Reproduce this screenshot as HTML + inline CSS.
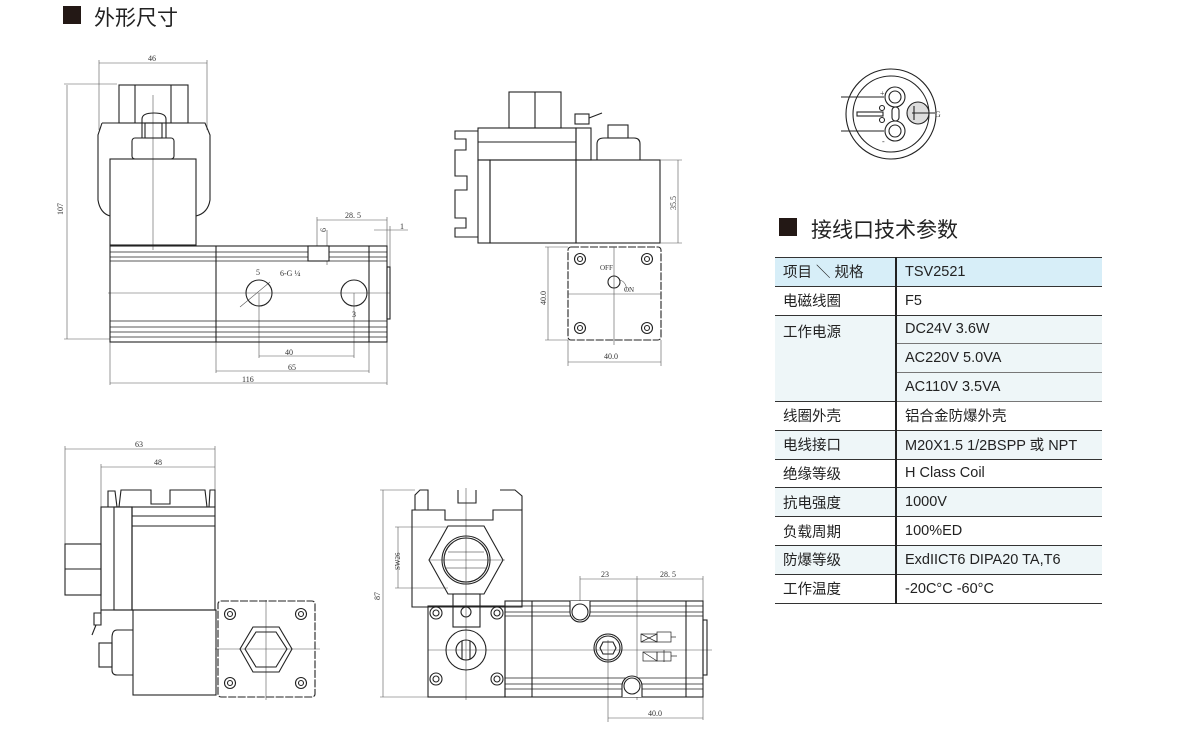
<!DOCTYPE html>
<html><head><meta charset="utf-8"><style>
body{margin:0;background:#fff;width:1200px;height:749px;overflow:hidden;font-family:"Liberation Sans","Noto Sans CJK SC",sans-serif}
svg{position:absolute;left:0;top:0}
.t{position:absolute;font-size:21px;color:#222;font-family:"Liberation Sans","Noto Sans CJK SC",sans-serif}
.sq{position:absolute;background:#231815}
table{position:absolute;left:775px;top:257px;width:327px;border-collapse:collapse;font-size:14.5px;color:#222}
td{height:27.8px;padding:0 0 0 8px;border-top:1.5px solid #333;border-bottom:1.5px solid #333;vertical-align:middle}
td.l{width:112px;border-right:2px solid #222}
tr.b td{background:#eef6f8}
tr.h td{background:#d7eef8}
td.sub{border-top:1px solid #777;border-bottom:1px solid #777}
</style></head><body>
<div class="sq" style="left:63px;top:6px;width:18px;height:18px"></div>
<div class="t" style="left:94px;top:2px">外形尺寸</div>
<div class="sq" style="left:779px;top:218px;width:18px;height:18px"></div>
<div class="t" style="left:811px;top:214px">接线口技术参数</div>
<table>
<tr class="h"><td class="l">项目 ＼ 规格</td><td>TSV2521</td></tr>
<tr><td class="l">电磁线圈</td><td>F5</td></tr>
<tr class="b"><td class="l" rowspan="3" style="vertical-align:top;padding-top:5px">工作电源</td><td class="sub">DC24V 3.6W</td></tr>
<tr class="b"><td class="sub">AC220V 5.0VA</td></tr>
<tr class="b"><td class="sub">AC110V 3.5VA</td></tr>
<tr><td class="l">线圈外壳</td><td>铝合金防爆外壳</td></tr>
<tr class="b"><td class="l">电线接口</td><td>M20X1.5 1/2BSPP 或 NPT</td></tr>
<tr><td class="l">绝缘等级</td><td>H Class Coil</td></tr>
<tr class="b"><td class="l">抗电强度</td><td>1000V</td></tr>
<tr><td class="l">负载周期</td><td>100%ED</td></tr>
<tr class="b"><td class="l">防爆等级</td><td>ExdIICT6 DIPA20 TA,T6</td></tr>
<tr><td class="l">工作温度</td><td>-20C°C -60°C</td></tr>
</table>
<svg width="1200" height="749" viewBox="0 0 1200 749" fill="none" stroke="#222" stroke-width="1.1" font-family="Liberation Serif,serif" font-size="8">
<g stroke="#555" stroke-width="0.6">
<line x1="99" y1="63" x2="207" y2="63"/><line x1="99" y1="60" x2="99" y2="130"/><line x1="207" y1="60" x2="207" y2="130"/>
<line x1="67" y1="85" x2="67" y2="339"/><line x1="64" y1="84" x2="117" y2="84"/><line x1="64" y1="339" x2="110" y2="339"/>
<line x1="259" y1="356" x2="354" y2="356"/><line x1="259" y1="293" x2="259" y2="358"/><line x1="354" y1="293" x2="354" y2="358"/>
<line x1="216" y1="371" x2="369" y2="371"/><line x1="216" y1="342" x2="216" y2="373"/><line x1="369" y1="342" x2="369" y2="373"/>
<line x1="110" y1="383" x2="387" y2="383"/><line x1="110" y1="342" x2="110" y2="385"/><line x1="387" y1="342" x2="387" y2="385"/>
<line x1="317" y1="220" x2="387" y2="220"/><line x1="317" y1="217" x2="317" y2="246"/><line x1="387" y1="217" x2="387" y2="267"/>
<line x1="374" y1="230" x2="408" y2="230"/><line x1="390" y1="226" x2="390" y2="267"/>
<line x1="327" y1="230" x2="327" y2="265"/>
<line x1="153" y1="95" x2="153" y2="250"/><line x1="108" y1="293" x2="390" y2="293"/>
<line x1="240" y1="307" x2="270" y2="282"/>
</g>
<g fill="#333" stroke="none">
<text x="148" y="61">46</text><text x="345" y="218">28. 5</text><text x="400" y="229">1</text>
<text x="285" y="355">40</text><text x="288" y="370">65</text><text x="242" y="382">116</text>
<text x="280" y="276">6-G ¼</text><text x="256" y="275">5</text><text x="352" y="317">3</text>
<text x="0" y="0" transform="translate(63,215) rotate(-90)">107</text>
<text x="0" y="0" transform="translate(326,232) rotate(-90)">6</text>
</g>
<rect x="119" y="85" width="69" height="38"/><line x1="135" y1="85" x2="135" y2="123"/><line x1="171" y1="85" x2="171" y2="123"/>
<path d="M102 123 H205 L210 135 V200 Q208 213 196 216 M102 123 L98 135 V200 Q100 213 110 216"/>
<path d="M142 138 V119 Q142 113 154 113 Q166 113 166 119 V138"/><rect x="145" y="123" width="17" height="15"/>
<rect x="132" y="138" width="42" height="21" rx="3"/>
<rect x="110" y="159" width="86" height="86"/>
<rect x="110" y="246" width="277" height="96"/>
<g stroke-width="0.7"><line x1="110" y1="252" x2="387" y2="252"/><line x1="110" y1="257" x2="387" y2="257"/><line x1="110" y1="261" x2="387" y2="261"/>
<line x1="110" y1="321" x2="387" y2="321"/><line x1="110" y1="327" x2="387" y2="327"/><line x1="110" y1="332" x2="387" y2="332"/><line x1="110" y1="337" x2="387" y2="337"/></g>
<line x1="216" y1="246" x2="216" y2="342"/><line x1="369" y1="246" x2="369" y2="342"/>
<rect x="308" y="246" width="21" height="15" fill="#fff"/>
<rect x="387" y="267" width="3" height="52"/>
<circle cx="259" cy="293" r="13"/><circle cx="354" cy="293" r="13"/>
<rect x="509" y="92" width="52" height="36"/><line x1="535" y1="92" x2="535" y2="128"/>
<rect x="478" y="128" width="98" height="32"/><line x1="478" y1="142" x2="576" y2="142"/>
<path d="M478 131 H455 V139 H466 V150 H455 V176 H467 V190 H455 V218 H466 V228 H455 V237 H478"/>
<rect x="478" y="160" width="12" height="83"/>
<rect x="490" y="160" width="86" height="83"/><rect x="576" y="160" width="84" height="83"/>
<rect x="576" y="128" width="15" height="32"/><rect x="575" y="114" width="14" height="10"/><line x1="589" y1="118" x2="602" y2="113"/>
<path d="M597 160 V144 Q597 138 604 138 H634 Q640 138 640 144 V160"/><rect x="608" y="125" width="20" height="13"/>
<rect x="568" y="247" width="93" height="93" rx="3" stroke-dasharray="8 1.5"/>
<g stroke="#555" stroke-width="0.6"><line x1="614" y1="247" x2="614" y2="345"/><line x1="568" y1="294" x2="661" y2="294"/>
<line x1="678" y1="160" x2="678" y2="243"/><line x1="660" y1="160" x2="682" y2="160"/><line x1="660" y1="243" x2="682" y2="243"/>
<line x1="548" y1="247" x2="548" y2="340"/><line x1="545" y1="247" x2="568" y2="247"/><line x1="545" y1="340" x2="568" y2="340"/>
<line x1="568" y1="362" x2="661" y2="362"/><line x1="568" y1="340" x2="568" y2="366"/><line x1="661" y1="340" x2="661" y2="366"/>
<path d="M620 280 A9 9 0 0 1 626 291"/></g>
<g><circle cx="580" cy="259" r="5.5"/><circle cx="580" cy="259" r="2.5"/><circle cx="647" cy="259" r="5.5"/><circle cx="647" cy="259" r="2.5"/>
<circle cx="580" cy="328" r="5.5"/><circle cx="580" cy="328" r="2.5"/><circle cx="647" cy="328" r="5.5"/><circle cx="647" cy="328" r="2.5"/>
<circle cx="614" cy="282" r="6"/></g>
<g fill="#333" stroke="none" font-size="7"><text x="600" y="270">OFF</text><text x="624" y="292">ON</text>
<text x="604" y="359" font-size="8">40.0</text>
<text transform="translate(676,210) rotate(-90)" font-size="8">35.5</text>
<text transform="translate(546,305) rotate(-90)" font-size="8">40.0</text></g>
<g stroke="#555" stroke-width="0.6"><line x1="65" y1="449" x2="215" y2="449"/><line x1="65" y1="446" x2="65" y2="545"/><line x1="215" y1="446" x2="215" y2="490"/>
<line x1="101" y1="467" x2="215" y2="467"/><line x1="101" y1="464" x2="101" y2="508"/>
<line x1="266" y1="600" x2="266" y2="700"/><line x1="215" y1="649" x2="320" y2="649"/></g>
<g fill="#333" stroke="none"><text x="135" y="447">63</text><text x="154" y="465">48</text></g>
<path d="M108 507 V491 H115 L117 507 M119 507 L121 490 H151 V504 H170 V490 H205 L207 507 M209 507 L210 490 H215 V507"/>
<rect x="101" y="507" width="31" height="103"/><rect x="114" y="507" width="18" height="103"/>
<rect x="132" y="507" width="83" height="103"/><line x1="132" y1="516" x2="215" y2="516"/><line x1="132" y1="526" x2="215" y2="526"/>
<rect x="65" y="544" width="36" height="51"/><line x1="65" y1="569" x2="101" y2="569"/>
<rect x="133" y="610" width="83" height="85"/>
<path d="M133 630 H117 Q112 630 112 638 V670 Q112 675 117 675 H133"/><rect x="99" y="643" width="13" height="24"/>
<path d="M101 610 V620 M94 613 H101 V625 H94 Z M92 635 L96 625"/>
<rect x="218" y="601" width="97" height="96" rx="3" stroke-dasharray="8 1.5"/>
<g><circle cx="230" cy="614" r="5.5"/><circle cx="230" cy="614" r="2.5"/><circle cx="301" cy="614" r="5.5"/><circle cx="301" cy="614" r="2.5"/>
<circle cx="230" cy="683" r="5.5"/><circle cx="230" cy="683" r="2.5"/><circle cx="301" cy="683" r="5.5"/><circle cx="301" cy="683" r="2.5"/></g>
<polygon points="253,627 279,627 292,649 279,672 253,672 240,649"/><polygon points="256,632 276,632 287,649 276,667 256,667 245,649"/>
<g stroke="#555" stroke-width="0.6"><line x1="383" y1="490" x2="383" y2="697"/><line x1="380" y1="490" x2="415" y2="490"/><line x1="380" y1="697" x2="428" y2="697"/>
<line x1="398" y1="527" x2="398" y2="588"/><line x1="395" y1="527" x2="448" y2="527"/><line x1="395" y1="588" x2="448" y2="588"/>
<line x1="466" y1="488" x2="466" y2="700"/><line x1="430" y1="560" x2="505" y2="560"/><line x1="428" y1="650" x2="712" y2="650"/>
<line x1="580" y1="579" x2="703" y2="579"/><line x1="580" y1="576" x2="580" y2="612"/><line x1="637" y1="576" x2="637" y2="700"/><line x1="703" y1="576" x2="703" y2="720"/>
<line x1="608" y1="718" x2="703" y2="718"/><line x1="608" y1="640" x2="608" y2="722"/></g>
<g fill="#333" stroke="none"><text x="601" y="577">23</text><text x="660" y="577">28. 5</text><text x="648" y="716">40.0</text>
<text transform="translate(380,600) rotate(-90)">87</text><text transform="translate(400,570) rotate(-90)" font-size="7">SW26</text></g>
<path d="M415 510 V495 L420 490 H428 V510 M458 490 V503 H476 V490 M500 490 H515 L522 496 V510"/>
<path d="M412 510 V607 H522 V510 H493 V520 H445 V510 Z"/>
<polygon points="448,526 484,526 503,560 484,594 448,594 429,560"/>
<circle cx="466" cy="560" r="24"/><circle cx="466" cy="560" r="22"/>
<g stroke-width="0.6"><line x1="448" y1="552" x2="484" y2="552"/><line x1="446" y1="568" x2="486" y2="568"/></g>
<rect x="453" y="594" width="27" height="33"/><circle cx="466" cy="612" r="5"/>
<rect x="428" y="606" width="77" height="91"/>
<g><circle cx="436" cy="613" r="6"/><circle cx="436" cy="613" r="3"/><circle cx="497" cy="613" r="6"/><circle cx="497" cy="613" r="3"/>
<circle cx="436" cy="679" r="6"/><circle cx="436" cy="679" r="3"/><circle cx="497" cy="679" r="6"/><circle cx="497" cy="679" r="3"/></g>
<circle cx="466" cy="650" r="20"/><circle cx="466" cy="650" r="10"/><line x1="462" y1="641" x2="462" y2="659"/><line x1="470" y1="641" x2="470" y2="659"/>
<rect x="505" y="601" width="198" height="96"/>
<line x1="532" y1="601" x2="532" y2="697"/><line x1="686" y1="601" x2="686" y2="697"/>
<g stroke-width="0.7"><line x1="505" y1="606" x2="703" y2="606"/><line x1="505" y1="612" x2="703" y2="612"/><line x1="505" y1="616" x2="703" y2="616"/>
<line x1="505" y1="678" x2="703" y2="678"/><line x1="505" y1="684" x2="703" y2="684"/><line x1="505" y1="689" x2="703" y2="689"/></g>
<rect x="703" y="620" width="4" height="55"/>
<path d="M570 601 V612 A10 10 0 0 0 590 612 V601" fill="#fff"/><circle cx="580" cy="612" r="8"/>
<path d="M622 697 V686 A10 10 0 0 1 642 686 V697" fill="#fff"/><circle cx="632" cy="686" r="8"/>
<circle cx="608" cy="648" r="14"/><circle cx="608" cy="648" r="12"/><polygon points="603,642 613,642 616,648 613,654 603,654 600,648"/>
<g stroke-width="0.7"><rect x="641" y="634" width="16" height="8"/><line x1="641" y1="634" x2="657" y2="642"/><line x1="641" y1="642" x2="657" y2="634"/><rect x="657" y="632" width="14" height="10"/><line x1="671" y1="637" x2="676" y2="637"/>
<rect x="643" y="652" width="14" height="9"/><rect x="657" y="652" width="14" height="9"/><line x1="664" y1="650" x2="664" y2="662"/><line x1="643" y1="652" x2="657" y2="661"/><line x1="671" y1="656" x2="677" y2="656"/></g>
<circle cx="891" cy="114" r="45"/><circle cx="891" cy="114" r="38"/>
<circle cx="895" cy="97" r="10"/><circle cx="895" cy="97" r="6"/><circle cx="895" cy="131" r="10"/><circle cx="895" cy="131" r="6"/>
<rect x="892" y="107" width="7" height="14" rx="3.5"/>
<circle cx="882" cy="108" r="2.5"/><circle cx="882" cy="120" r="2.5"/><rect x="857" y="112" width="26" height="4"/>
<circle cx="918" cy="113" r="11" fill="#ddd"/><line x1="912" y1="113" x2="935" y2="113"/><line x1="914" y1="106" x2="914" y2="120"/>
<line x1="841" y1="97" x2="884" y2="97"/><line x1="841" y1="131" x2="884" y2="131"/>
<g fill="#333" stroke="none" font-size="8"><text x="880" y="96">+</text><text x="882" y="144">-</text><text x="935" y="117">G</text></g>
</svg>
</body></html>
